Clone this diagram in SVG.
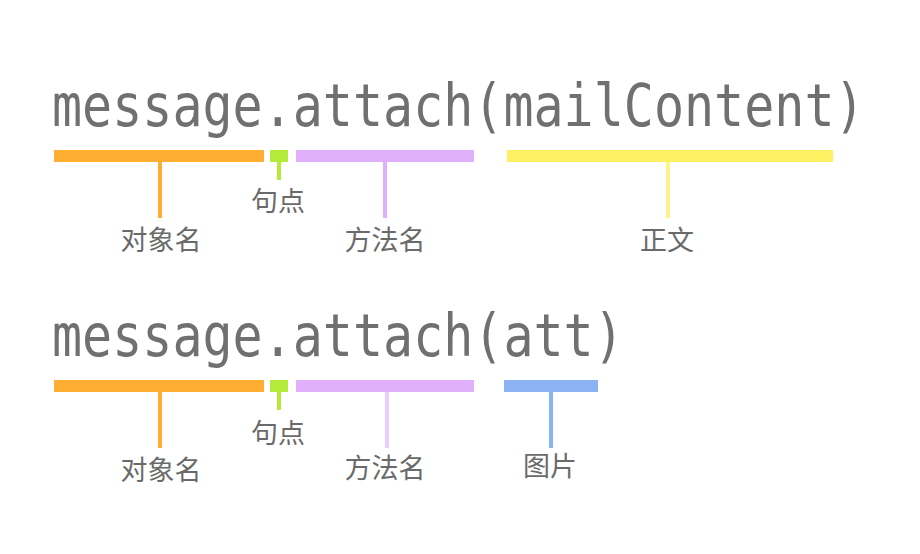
<svg xmlns="http://www.w3.org/2000/svg" width="920" height="554" viewBox="0 0 920 554">
<style>
.code{font-family:"DejaVu Sans Mono","Liberation Mono",monospace;font-size:50px;fill:#707070}
.lbl{font-family:"Noto Sans CJK SC","Noto Sans",sans-serif;font-size:27px;fill:#6a6a6a;text-anchor:middle}
.or{fill:#ffad33}.gr{fill:#b4eb3a}.pu{fill:#e0b0fc}.ye{fill:#fdf163}.bl{fill:#8bb3f4}
</style>
<rect width="920" height="554" fill="#ffffff"/>
<g id="code1"><text class="code" transform="translate(52,125.5) scale(1,1.18)">message.attach(mailContent)</text></g>
<g id="code2"><text class="code" transform="translate(52,356) scale(1,1.18)">message.attach(att)</text></g>
<g id="connectors">
<rect class="or" x="158" y="160" width="4" height="58"/>
<rect class="gr" x="277" y="160" width="4" height="20"/>
<rect class="pu" x="383" y="160" width="4" height="58"/>
<rect x="666" y="160" width="4" height="58" fill="#fff38a"/>
<rect class="or" x="158" y="390" width="4" height="58"/>
<rect class="gr" x="277" y="390" width="4" height="20"/>
<rect x="385" y="390" width="4" height="58" fill="#ebcdfd"/>
<rect class="bl" x="549" y="390" width="4" height="58"/>
</g>
<g id="objname1"><rect class="or" x="54" y="150" width="210" height="12"/><text class="lbl" x="161" y="250">对象名</text></g>
<g id="dot1"><rect class="gr" x="270" y="150" width="18" height="12"/><text class="lbl" x="278" y="211">句点</text></g>
<g id="method1"><rect class="pu" x="296" y="150" width="178" height="12"/><text class="lbl" x="385" y="250">方法名</text></g>
<g id="body1"><rect class="ye" x="507" y="150" width="326" height="12"/><text class="lbl" x="667" y="250">正文</text></g>
<g id="objname2"><rect class="or" x="54" y="380" width="210" height="12"/><text class="lbl" x="161" y="480">对象名</text></g>
<g id="dot2"><rect class="gr" x="270" y="380" width="18" height="12"/><text class="lbl" x="278" y="443">句点</text></g>
<g id="method2"><rect class="pu" x="296" y="380" width="178" height="12"/><text class="lbl" x="385" y="478">方法名</text></g>
<g id="image2"><rect class="bl" x="504" y="380" width="94" height="12"/><text class="lbl" x="550" y="476">图片</text></g>
</svg>
